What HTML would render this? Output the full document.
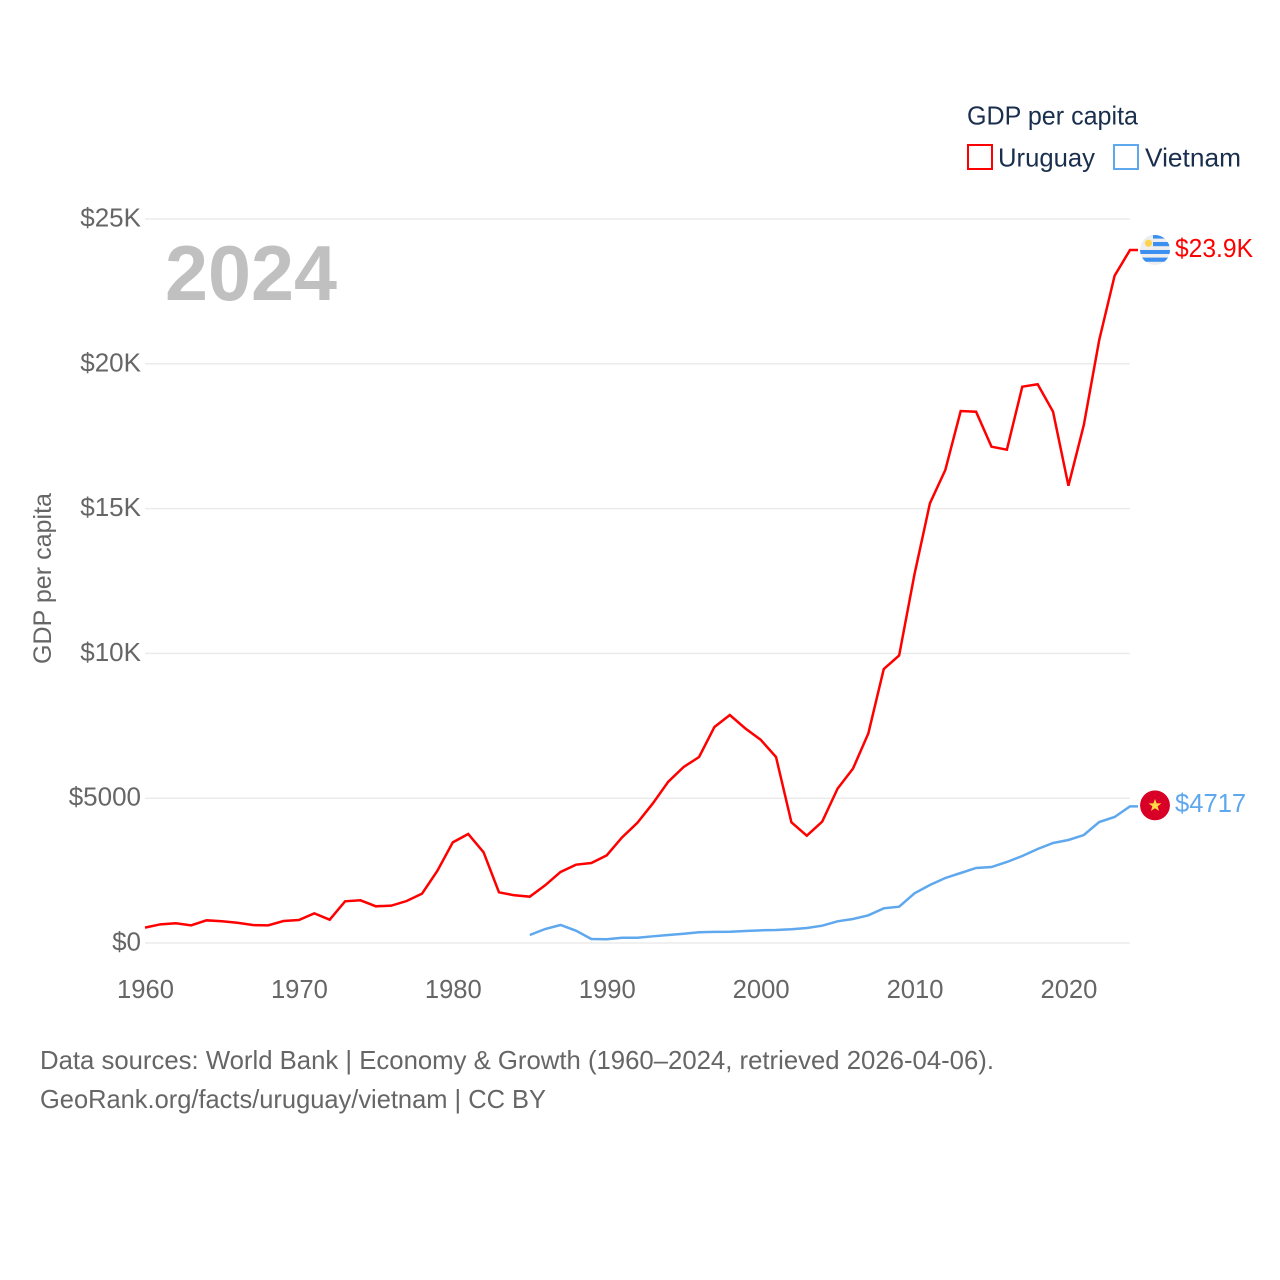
<!DOCTYPE html>
<html lang="en">
<head>
<meta charset="utf-8">
<title>GDP per capita: Uruguay and Vietnam</title>
<style>
html,body{margin:0;padding:0;background:#fff;}
svg{display:block;font-family:"Liberation Sans",sans-serif;}
</style>
</head>
<body>
<svg id="chart" width="1280" height="1280" viewBox="0 0 1280 1280" xmlns="http://www.w3.org/2000/svg">
  <rect x="0" y="0" width="1280" height="1280" fill="#ffffff"/>
  <g id="grid"></g>
  <g id="yticks"></g>
  <g id="xticks"></g>
  <text x="165" y="300" font-size="78" font-weight="700" fill="#c0c0c0" textLength="172" lengthAdjust="spacingAndGlyphs">2024</text>
  <text transform="translate(51 664) rotate(-90)" font-size="25" fill="#666666" textLength="171" lengthAdjust="spacingAndGlyphs">GDP per capita</text>
  <g id="series"></g>

  <g>
    <text x="967" y="124.5" font-size="26" fill="#1a2f4d" textLength="171" lengthAdjust="spacingAndGlyphs">GDP per capita</text>
    <rect x="968" y="145" width="24" height="24" fill="none" stroke="#ff0000" stroke-width="2"/>
    <text x="998" y="166.5" font-size="26" fill="#1a2f4d" textLength="97" lengthAdjust="spacingAndGlyphs">Uruguay</text>
    <rect x="1114" y="145" width="24" height="24" fill="none" stroke="#5fa8ee" stroke-width="2"/>
    <text x="1145" y="166.5" font-size="26" fill="#1a2f4d" textLength="96" lengthAdjust="spacingAndGlyphs">Vietnam</text>
  </g>

  <defs>
    <clipPath id="flag-clip"><circle cx="0" cy="0" r="15"/></clipPath>
  </defs>
  <g id="flag-uruguay" clip-path="url(#flag-clip)">
    <circle cx="0" cy="0" r="15" fill="#eeeeee"/>
    <rect x="-15" y="-15" width="30" height="3.6" fill="#3b8ff0"/>
    <rect x="-2" y="-8" width="17" height="4.2" fill="#3b8ff0"/>
    <rect x="-15" y="0" width="30" height="4" fill="#3b8ff0"/>
    <rect x="-15" y="7.6" width="30" height="4.2" fill="#3b8ff0"/>
    <rect x="-15" y="-15" width="13" height="15" fill="#eeeeee"/>
    <circle cx="-6.5" cy="-6.8" r="3.6" fill="#ffd34d"/>
  </g>
  <g id="flag-vietnam" clip-path="url(#flag-clip)">
    <circle cx="0" cy="0" r="15" fill="#d80027"/>
    <polygon points="0,-6.5 1.6,-2 6.4,-2 2.6,0.9 4,5.5 0,2.8 -4,5.5 -2.6,0.9 -6.4,-2 -1.6,-2" fill="#ffda44"/>
  </g>

  <g>
    <text x="40" y="1069" font-size="26" fill="#666666" textLength="954" lengthAdjust="spacingAndGlyphs">Data sources: World Bank | Economy &amp; Growth (1960–2024, retrieved 2026-04-06).</text>
    <text x="40" y="1108" font-size="26" fill="#666666" textLength="506" lengthAdjust="spacingAndGlyphs">GeoRank.org/facts/uruguay/vietnam | CC BY</text>
  </g>
</svg>
<script>
const uruguayStartYear = 1960;
const vietnamStartYear = 1985;
const uruguayValues = [530,645,680,610,783,750,700,620,610,760,794,1025,805,1440,1474,1267,1290,1450,1703,2497,3476,3764,3132,1750,1647,1600,1992,2452,2704,2762,3027,3648,4154,4823,5571,6077,6423,7459,7873,7412,7020,6423,4167,3706,4190,5330,6020,7240,9460,9930,12740,15183,16333,18370,18346,17138,17035,19210,19292,18346,15790,17887,20822,23042,23930];
const vietnamValues = [276,483,622,425,138,128,183,183,231,276,321,369,385,390,414,438,449,473,518,598,749,829,956,1198,1253,1716,2003,2245,2417,2590,2624,2797,3004,3246,3453,3557,3729,4178,4351,4717];
const yTickValues = [0,5000,10000,15000,20000,25000];
const yTickLabels = ["$0","$5000","$10K","$15K","$20K","$25K"];
const xTickValues = [1960,1970,1980,1990,2000,2010,2020];
const uruguayEndLabel = "$23.9K";
const vietnamEndLabel = "$4717";

const NS = "http://www.w3.org/2000/svg";
const xScale = function (year) { return 145 + (year - 1960) * (985 / 64); };
const yScale = function (value) { return 943 - value * (724 / 25000); };

function make(tag, parent, attrs, text) {
  const el = document.createElementNS(NS, tag);
  Object.keys(attrs).forEach(function (k) { el.setAttribute(k, attrs[k]); });
  if (text !== undefined) el.textContent = text;
  parent.appendChild(el);
  return el;
}

const grid = document.getElementById("grid");
const yticks = document.getElementById("yticks");
const xticks = document.getElementById("xticks");
const series = document.getElementById("series");

yTickValues.forEach(function (v, i) {
  const line = make("line", grid, { x1: 145, x2: 1130, y1: yScale(v), y2: yScale(v), stroke: "#ebebeb", "stroke-width": 1.5 });
  
  
  const label = make("text", yticks, { x: 141, y: yScale(v) + 7.5, "text-anchor": "end", "font-size": 26, fill: "#666666" }, yTickLabels[i]);
  
  
});

xTickValues.forEach(function (year) {
  const label = make("text", xticks, { x: xScale(year) + 0.5, y: 998, "text-anchor": "middle", "font-size": 25.6, fill: "#666666" }, String(year));
  
  
});

function drawSeries(values, startYear, color) {
  const pts = values.map(function (v, i) { return xScale(startYear + i).toFixed(2) + "," + yScale(v).toFixed(2); });
  const last = values[values.length - 1];
  pts.push("1138," + yScale(last).toFixed(2));
  return make("polyline", series, { points: pts.join(" "), fill: "none", stroke: color, "stroke-width": 2.5, "stroke-linejoin": "miter" });
}

const uruguayLine = drawSeries(uruguayValues, uruguayStartYear, "#ff0000");



const vietnamLine = drawSeries(vietnamValues, vietnamStartYear, "#5fa8ee");



const uruguayLast = yScale(uruguayValues[uruguayValues.length - 1]);
const vietnamLast = yScale(vietnamValues[vietnamValues.length - 1]);

document.getElementById("flag-uruguay").setAttribute("transform", "translate(1155 " + uruguayLast + ")");
document.getElementById("flag-vietnam").setAttribute("transform", "translate(1155 " + (vietnamLast - 1) + ")");

const uruguayEnd = make("text", series, { x: 1175, y: uruguayLast + 7, "font-size": 25.6, fill: "#ff0000", textLength: 78, lengthAdjust: "spacingAndGlyphs" }, uruguayEndLabel);



const vietnamEnd = make("text", series, { x: 1175, y: vietnamLast + 5.5, "font-size": 25.6, fill: "#5fa8ee" }, vietnamEndLabel);


</script>
</body>
</html>
